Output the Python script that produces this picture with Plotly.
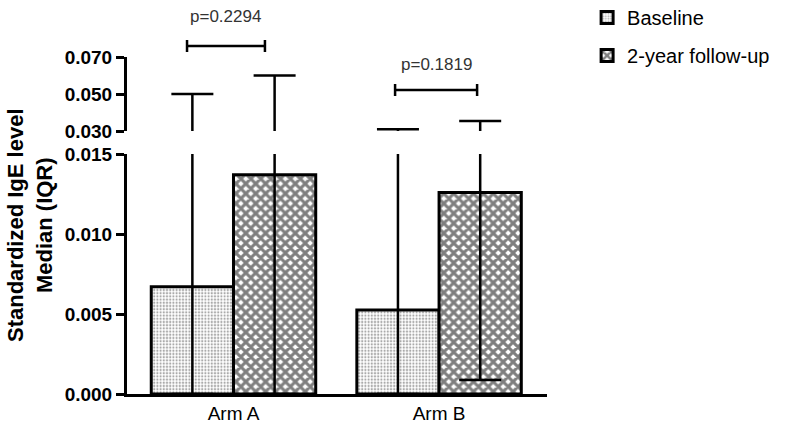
import plotly.graph_objects as go

# ---- data ----
arms = ["Arm A", "Arm B"]
baseline_median = [0.0067, 0.00525]
baseline_q1 = [0.0, 0.0]
baseline_q3 = [0.050, 0.031]
followup_median = [0.0137, 0.0126]
followup_q1 = [0.0, 0.00088]
followup_q3 = [0.060, 0.0354]
p_values = ["p=0.2294", "p=0.1819"]
lower_ticks = [0.000, 0.005, 0.010, 0.015]
upper_ticks = [0.030, 0.050, 0.070]

FONT = "Arial, Liberation Sans, sans-serif"
xpos = list(range(len(arms)))

def err(med, q1, q3):
    return dict(type="data", symmetric=False,
                array=[b - a for a, b in zip(med, q3)],
                arrayminus=[a - b for a, b in zip(med, q1)],
                color="black", thickness=2.5, width=21)

base_pat = dict(shape=".", fgcolor="#555555", bgcolor="white", size=3.2, solidity=0.38)
fol_pat = dict(shape="x", fgcolor="black", bgcolor="white", size=7, solidity=0.68)

fig = go.Figure()
# lower panel: visible bars
fig.add_trace(go.Bar(x=xpos, y=baseline_median, name="Baseline",
                     marker=dict(color="white", pattern=base_pat, line=dict(color="black", width=3)),
                     error_y=err(baseline_median, baseline_q1, baseline_q3),
                     xaxis="x", yaxis="y", legendgroup="a"))
fig.add_trace(go.Bar(x=xpos, y=followup_median, name="2-year follow-up",
                     marker=dict(color="white", pattern=fol_pat, line=dict(color="black", width=3)),
                     error_y=err(followup_median, followup_q1, followup_q3),
                     xaxis="x", yaxis="y", legendgroup="b"))
# upper panel: same bars (out of range), only error bars show
fig.add_trace(go.Bar(x=xpos, y=baseline_median, showlegend=False,
                     marker=dict(color="rgba(0,0,0,0)", line=dict(width=0)),
                     error_y=err(baseline_median, baseline_q1, baseline_q3),
                     xaxis="x2", yaxis="y2", hoverinfo="skip"))
fig.add_trace(go.Bar(x=xpos, y=followup_median, showlegend=False,
                     marker=dict(color="rgba(0,0,0,0)", line=dict(width=0)),
                     error_y=err(followup_median, followup_q1, followup_q3),
                     xaxis="x2", yaxis="y2", hoverinfo="skip"))

# plot area in pixels: x 127..547, y 57..394
H = 337.0
def py(pix):
    return (394 - pix) / H

xr = [-0.518, 1.525]
fig.update_layout(
    width=800, height=435,
    margin=dict(l=127, r=253, t=57, b=41, autoexpand=False),
    paper_bgcolor="white", plot_bgcolor="white",
    barmode="group", bargap=0.2, bargroupgap=0,
    font=dict(family=FONT, color="black"),
    xaxis=dict(domain=[0, 1], range=xr, tickvals=xpos, ticktext=arms,
               showline=True, linewidth=3, linecolor="black", ticks="",
               showgrid=False, zeroline=False, anchor="y",
               tickfont=dict(size=19, family=FONT, color="black")),
    xaxis2=dict(domain=[0, 1], range=xr, visible=False, anchor="y2", matches="x"),
    yaxis=dict(domain=[0, py(154)], range=[0, 0.015], tickvals=lower_ticks, tickformat=".3f",
               showline=True, linewidth=3, linecolor="black", ticks="outside",
               ticklen=8, tickwidth=3, tickcolor="black",
               showgrid=False, zeroline=False, anchor="x",
               tickfont=dict(size=19, family=FONT, color="black", weight="bold")),
    yaxis2=dict(domain=[py(131), 1], range=[0.030, 0.070], tickvals=upper_ticks, tickformat=".3f",
                showline=True, linewidth=3, linecolor="black", ticks="outside",
                ticklen=8, tickwidth=3, tickcolor="black",
                showgrid=False, zeroline=False, anchor="x2",
                tickfont=dict(size=19, family=FONT, color="black", weight="bold")),
    legend=dict(x=1.0955, xanchor="left", y=py(-2), yanchor="top",
                font=dict(size=20, family=FONT, color="black"),
                traceorder="grouped", tracegroupgap=9, bgcolor="rgba(0,0,0,0)"),
    showlegend=True,
)

# y title
fig.add_annotation(text="<b>Standardized IgE level<br>Median (IQR)</b>", xref="paper", yref="paper",
                   x=(30 - 127) / 420.0, y=py(225), xanchor="center", yanchor="middle",
                   textangle=-90, showarrow=False,
                   font=dict(size=22, family=FONT, color="black"), align="center")

# significance brackets
brackets = [(-0.226, 0.153, 46, 17), (0.786, 1.185, 90, 64)]
tick = 6.0 / H
for (x0, x1, ypix, tpix), ptxt in zip(brackets, p_values):
    yb = py(ypix)
    fig.add_shape(type="line", xref="x", yref="paper", x0=x0, x1=x1, y0=yb, y1=yb,
                  line=dict(color="black", width=2.5))
    for xe in (x0, x1):
        fig.add_shape(type="line", xref="x", yref="paper", x0=xe, x1=xe, y0=yb - tick, y1=yb + tick,
                      line=dict(color="black", width=2.5))
    fig.add_annotation(text=ptxt, xref="x", yref="paper", x=(x0 + x1) / 2, y=py(tpix),
                       showarrow=False, yanchor="middle",
                       font=dict(size=17, family=FONT, color="#333333"))

fig.write_html("out.html", config={"displayModeBar": False},
               post_script="document.body.style.margin='0';")
